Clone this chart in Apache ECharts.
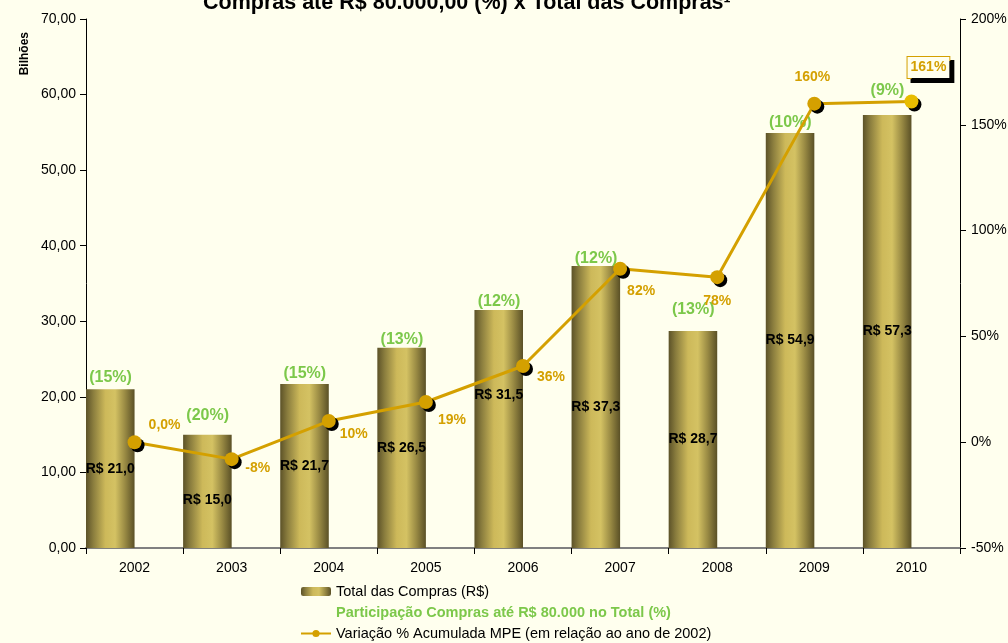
<!DOCTYPE html>
<html>
<head>
<meta charset="utf-8">
<script src="https://cdn.jsdelivr.net/npm/echarts@6/dist/echarts.min.js"></script>
<style>
  html, body { margin: 0; padding: 0; background: #ffffee; }
  #chart { width: 1008px; height: 643px; }
</style>
</head>
<body>
<div id="chart"></div>
<script>
// dados
const anos = ['2002', '2003', '2004', '2005', '2006', '2007', '2008', '2009', '2010']
const totalCompras = [21.0, 15.0, 21.7, 26.5, 31.5, 37.3, 28.7, 54.9, 57.3]
const participacao = [15, 20, 15, 13, 12, 12, 13, 10, 9]
const variacao = [0, -8, 10, 19, 36, 82, 78, 160, 161]
const variacaoLabels = ['0,0%', '-8%', '10%', '19%', '36%', '82%', '78%', '160%', '161%']

// ajustes de posição dos rótulos
const totalOffsets = [[0, 0], [0, 9], [0, 0], [0, 0], [0, -34], [0, 0], [0, 0], [0, 0], [0, 0]]
const partOffsetsY = [0, -7, 2, 4, 4, 4, -10, 1, -12]
const varOffsets = [[30, -17], [26, 9], [25, 13], [26, 18], [28, 11], [21, 22], [0, 24], [-2, -26], [17, -34]]

const font = 'Liberation Sans'
const gold = '#d4a000'
const green = '#7cc84a'

const barGradient = new echarts.graphic.LinearGradient(0, 0, 1, 0, [
  { offset: 0, color: '#5c5228' },
  { offset: 0.15, color: '#8a7d3e' },
  { offset: 0.4, color: '#cdb95a' },
  { offset: 0.6, color: '#d4c263' },
  { offset: 0.8, color: '#9a8b44' },
  { offset: 1, color: '#5a5026' }
])

const chart = echarts.init(document.getElementById('chart'))

const option = {
  backgroundColor: '#ffffee',
  animation: false,
  textStyle: { fontFamily: font },
  title: {
    text: 'Compras até R$ 80.000,00 (%) x Total das Compras¹',
    left: 198,
    top: -13,
    textStyle: { fontFamily: font, fontSize: 21.5, fontWeight: 'bold', color: '#000' }
  },
  graphic: [
    {
      type: 'text',
      left: 19,
      top: 32,
      rotation: Math.PI / 2,
      style: { text: 'Bilhões', font: 'bold 12px "Liberation Sans"', fill: '#000' }
    }
  ],
  grid: { left: 86, right: 48, top: 19, bottom: 95, outerBoundsMode: 'none' },
  legend: {
    orient: 'vertical',
    left: 300,
    top: 584,
    padding: 0,
    itemWidth: 30,
    itemHeight: 9,
    itemGap: 6,
    textStyle: { fontFamily: font, fontSize: 14.5, color: '#000' },
    data: [
      { name: 'Total das Compras (R$)' },
      {
        name: 'Participação Compras até R$ 80.000 no Total (%)',
        itemStyle: { opacity: 0 },
        textStyle: { color: green, fontWeight: 'bold' }
      },
      { name: 'Variação % Acumulada MPE (em relação ao ano de 2002)' }
    ]
  },
  xAxis: [
    {
      type: 'category',
      data: anos,
      axisLine: { lineStyle: { color: '#808080', width: 2 } },
      axisTick: { show: true, length: 6, lineStyle: { color: '#000' } },
      axisLabel: { color: '#000', fontSize: 14, margin: 13, fontFamily: font }
    },
    {
      // eixo oculto só para os rótulos verdes
      type: 'category',
      data: anos,
      show: false
    }
  ],
  yAxis: [
    {
      type: 'value',
      min: 0,
      max: 70,
      interval: 10,
      splitLine: { show: false },
      axisLine: { show: true, lineStyle: { color: '#000' } },
      axisTick: { show: true, length: 6, lineStyle: { color: '#000' } },
      axisLabel: {
        color: '#000',
        fontSize: 14,
        margin: 10,
        fontFamily: font,
        formatter: v => v.toFixed(2).replace('.', ',')
      }
    },
    {
      type: 'value',
      min: -50,
      max: 200,
      interval: 50,
      splitLine: { show: false },
      axisLine: { show: true, lineStyle: { color: '#000' } },
      axisTick: { show: true, length: 6, lineStyle: { color: '#000' } },
      axisLabel: { color: '#000', fontSize: 14, margin: 11, fontFamily: font, formatter: '{value}%' }
    }
  ],
  series: [
    {
      name: 'Total das Compras (R$)',
      type: 'bar',
      barGap: '0%',
      barCategoryGap: '0%',
      itemStyle: { color: barGradient },
      data: totalCompras.map((v, i) => ({
        value: v,
        label: {
          show: true,
          position: 'inside',
          offset: totalOffsets[i],
          formatter: 'R$ ' + v.toFixed(1).replace('.', ','),
          color: '#000',
          fontWeight: 'bold',
          fontSize: 14,
          fontFamily: font
        }
      }))
    },
    {
      name: 'Participação Compras até R$ 80.000 no Total (%)',
      type: 'bar',
      barGap: '0%',
      barCategoryGap: '0%',
      itemStyle: { color: 'rgba(0,0,0,0)' },
      data: participacao
    },
    {
      // rótulos verdes da participação sobre as barras
      name: 'participacaoLabels',
      type: 'bar',
      xAxisIndex: 1,
      barWidth: '50%',
      silent: true,
      itemStyle: { color: 'rgba(0,0,0,0)' },
      data: totalCompras.map((v, i) => ({
        value: v,
        label: {
          show: true,
          position: 'top',
          distance: 4,
          offset: [-24, partOffsetsY[i]],
          color: green,
          fontSize: 16,
          fontWeight: 'bold',
          fontFamily: font,
          formatter: '(' + participacao[i] + '%)'
        }
      }))
    },
    {
      name: 'Variação % Acumulada MPE (em relação ao ano de 2002)',
      type: 'line',
      yAxisIndex: 1,
      symbol: 'circle',
      symbolSize: 14,
      z: 10,
      lineStyle: { color: gold, width: 3 },
      itemStyle: {
        color: gold,
        shadowColor: '#000',
        shadowOffsetX: 3,
        shadowOffsetY: 3,
        shadowBlur: 0
      },
      data: variacao.map((v, i) => {
        const item = {
          value: v,
          label: {
            show: true,
            position: 'inside',
            offset: varOffsets[i],
            formatter: variacaoLabels[i],
            color: gold,
            fontWeight: 'bold',
            fontSize: 14,
            fontFamily: font
          }
        }
        if (i === variacao.length - 1) {
          item.itemStyle = { color: '#e8bc00' }
          Object.assign(item.label, {
            backgroundColor: '#ffffee',
            borderColor: gold,
            borderWidth: 1,
            padding: [4, 3, 3, 3],
            shadowColor: '#000',
            shadowOffsetX: 4,
            shadowOffsetY: 4,
            shadowBlur: 0
          })
        }
        return item
      })
    }
  ]
}

chart.setOption(option)
</script>
</body>
</html>
